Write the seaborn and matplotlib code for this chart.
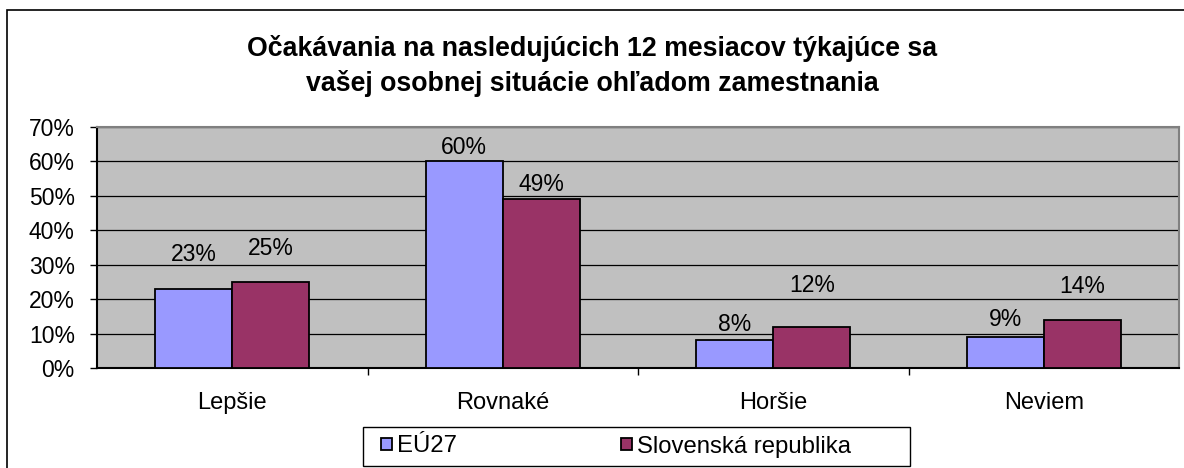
import pandas as pd
import numpy as np
import matplotlib
matplotlib.use("Agg")
import matplotlib.pyplot as plt
import seaborn as sns
from matplotlib.patches import Rectangle
from matplotlib.ticker import FixedLocator, FuncFormatter

# data
categories = ["Lepšie", "Rovnaké", "Horšie", "Neviem"]
series_names = ["EÚ27", "Slovenská republika"]
eu27 = [23, 60, 8, 9]
sr = [25, 49, 12, 14]
title = "Očakávania na nasledujúcich 12 mesiacov týkajúce sa\nvašej osobnej situácie ohľadom zamestnania"

colors = ["#9999FF", "#993366"]
# gap between bar top and label baseline (points); Excel placed them unevenly
label_lift = {
    "EÚ27": [20, 5, 7, 8],
    "Slovenská republika": [19.5, 6, 25, 19.5],
}


def main():
    df = pd.DataFrame({
        "cat": categories * 2,
        "series": [series_names[0]] * 4 + [series_names[1]] * 4,
        "value": eu27 + sr,
    })

    sns.set_theme(style="white")
    plt.rcParams['font.family'] = ['Liberation Sans', 'DejaVu Sans']
    plt.rcParams['text.color'] = 'black'

    W, H = 1184, 468
    fig = plt.figure(figsize=(W / 100, H / 100), dpi=100)
    fig.patch.set_facecolor("white")
    # outer chart border
    fig.patches.append(Rectangle((7 / W, -0.01), 1.0, 1 - 10 / H + 0.01,
                                 transform=fig.transFigure, fill=False,
                                 edgecolor="black", linewidth=1.2, zorder=0))

    ax = fig.add_axes([97 / W, 100 / H, 1082 / W, 241 / H])
    ax.set_facecolor("#C0C0C0")

    sns.barplot(data=df, x="cat", y="value", hue="series", palette=colors,
                width=0.57, gap=0, edgecolor="black", linewidth=1.3,
                saturation=1, ax=ax, legend=True, zorder=3)

    ax.set_ylim(0, 70)
    ax.set_xlim(-0.5, 3.5)
    ax.set_yticks(np.arange(0, 71, 10))
    ax.yaxis.set_major_formatter(FuncFormatter(lambda v, p: f"{int(v)}%"))
    ax.grid(axis="y", color="black", linewidth=0.9, zorder=0)
    ax.set_axisbelow(True)
    ax.tick_params(axis="y", left=True, length=5, width=1, color="black",
                   labelsize=16.5, pad=11, direction="out", labelcolor="black")
    ax.tick_params(axis="x", which="major", length=0, labelsize=17, pad=17,
                   labelcolor="black")
    ax.xaxis.set_minor_locator(FixedLocator([0.5, 1.5, 2.5]))
    ax.tick_params(axis="x", which="minor", bottom=True, length=5, width=1,
                   color="black", direction="out")
    ax.set_xlabel("")
    ax.set_ylabel("")

    ax.spines["left"].set_color("black")
    ax.spines["bottom"].set_color("black")
    ax.spines["top"].set_color("#808080")
    ax.spines["right"].set_color("#808080")
    for s in ax.spines.values():
        s.set_linewidth(1.5)
        s.set_visible(True)

    # data labels
    for container, name in zip(ax.containers, series_names):
        for bar, lift in zip(container, label_lift[name]):
            h = bar.get_height()
            ax.annotate(f"{int(round(h))}%",
                        (bar.get_x() + bar.get_width() / 2, h),
                        xytext=(0, lift), textcoords="offset points",
                        ha="center", va="baseline", fontsize=16.5, color="black")

    # legend: frame drawn separately to match the wide Excel box
    fig.patches.append(Rectangle((363 / W, 2 / H), 547 / W, 39 / H,
                                 transform=fig.transFigure, facecolor="white",
                                 edgecolor="black", linewidth=1.0, zorder=1))
    handles, labels = ax.get_legend_handles_labels()
    ax.get_legend().remove()
    leg = fig.legend(handles, labels, loc="center left",
                     bbox_to_anchor=(381 / W, 21.5 / H), ncol=2,
                     frameon=False, fontsize=17.2, handlelength=0.45,
                     handleheight=0.45, handletextpad=0.2, borderpad=0,
                     borderaxespad=0, columnspacing=6.9, labelcolor="black")
    leg.set_zorder(2)

    fig.text(0.5, 1 - 66 / H, title, ha="center", va="center", color="black",
             fontsize=19.3, fontweight="bold", linespacing=1.38)

    fig.savefig("out.png", dpi=100)
    plt.close(fig)


if __name__ == "__main__":
    main()
